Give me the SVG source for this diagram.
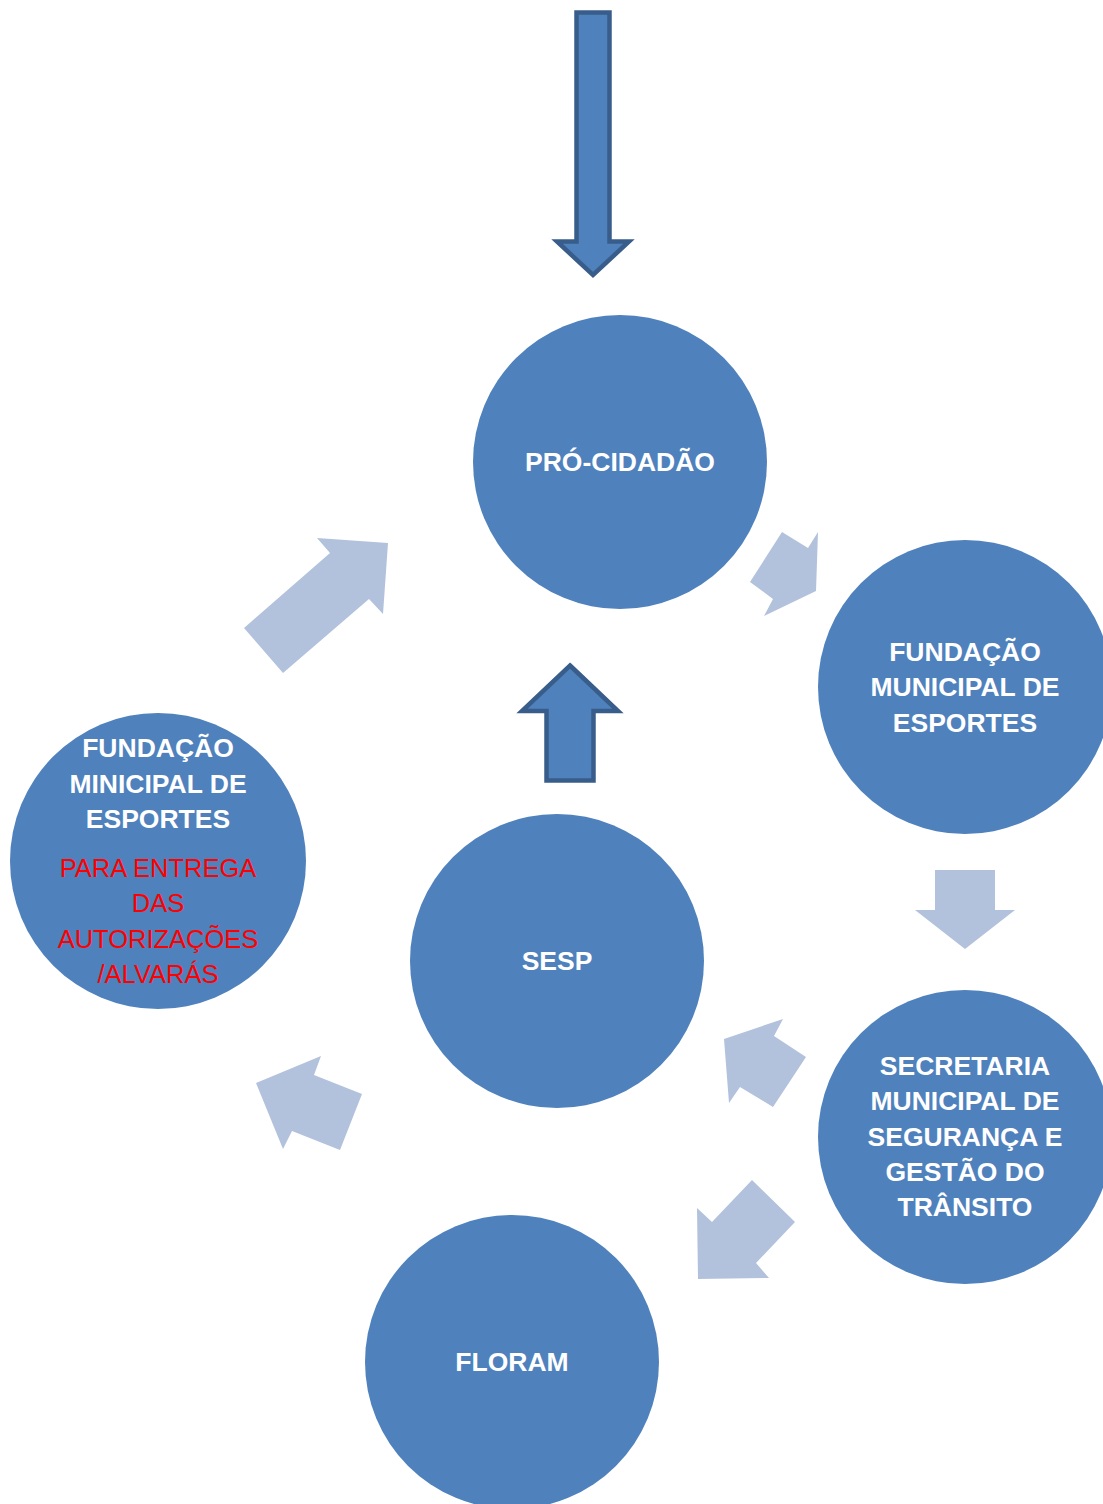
<svg xmlns="http://www.w3.org/2000/svg" width="1103" height="1504" viewBox="0 0 1103 1504">
<style>
.node{fill:#4f81bd}
.lbl{font-family:"Liberation Sans",Arial,sans-serif;font-weight:bold;font-size:26.5px;fill:#ffffff;text-anchor:middle}
.red{font-family:"Liberation Sans",Arial,sans-serif;font-size:25.5px;fill:#ff0000;text-anchor:middle}
.light{fill:#b2c2dc}
.dark{fill:#4f81bd;stroke:#385d8a;stroke-width:4.5;stroke-linejoin:miter}
</style>
<rect width="1103" height="1504" fill="#ffffff"/>
<g id="connectors">
<polygon class="dark" points="576.5,12.5 609.5,12.5 609.5,241.5 629,241.5 593,275 557,241.5 576.5,241.5"/>
<polygon class="dark" points="570,665.5 618,711 593.5,711 593.5,780.5 546.5,780.5 546.5,711 522,711"/>
<polygon class="light" points="244,628 330,553 317,538 388,543 383,614 369,599 283,673"/>
<polygon class="light" points="782,532 808,548 818,532 816,591 764,616 773,599 750,582"/>
<polygon class="light" points="935,870 995,870 995,910 1015,910 965,949 915,910 935,910"/>
<polygon class="light" points="724,1039 783,1019 774,1036 806,1057 773,1107 740,1087 729,1103"/>
<polygon class="light" points="697,1208 712,1222 752,1180 795,1222 756,1263 769,1278 698,1279"/>
<polygon class="light" points="256,1083 321,1056 314,1075 362,1094 340,1150 292,1131 283,1149"/>
</g>
<g id="pro-cidadao">
<circle class="node" cx="620" cy="462" r="147"/>
<text class="lbl" x="620" y="471">PRÓ-CIDADÃO</text>
</g>
<g id="fundacao-direita">
<circle class="node" cx="965" cy="687" r="147"/>
<text class="lbl" x="965" y="661">FUNDAÇÃO</text>
<text class="lbl" x="965" y="696">MUNICIPAL DE</text>
<text class="lbl" x="965" y="732">ESPORTES</text>
</g>
<g id="fundacao-esquerda">
<circle class="node" cx="158" cy="861" r="148"/>
<text class="lbl" x="158" y="757">FUNDAÇÃO</text>
<text class="lbl" x="158" y="793">MINICIPAL DE</text>
<text class="lbl" x="158" y="828">ESPORTES</text>
<text class="red" x="158" y="877">PARA ENTREGA</text>
<text class="red" x="158" y="912">DAS</text>
<text class="red" x="158" y="948">AUTORIZAÇÕES</text>
<text class="red" x="158" y="983">/ALVARÁS</text>
</g>
<g id="sesp">
<circle class="node" cx="557" cy="961" r="147"/>
<text class="lbl" x="557" y="970">SESP</text>
</g>
<g id="secretaria">
<circle class="node" cx="965" cy="1137" r="147"/>
<text class="lbl" x="965" y="1075">SECRETARIA</text>
<text class="lbl" x="965" y="1110">MUNICIPAL DE</text>
<text class="lbl" x="965" y="1146">SEGURANÇA E</text>
<text class="lbl" x="965" y="1181">GESTÃO DO</text>
<text class="lbl" x="965" y="1216">TRÂNSITO</text>
</g>
<g id="floram">
<circle class="node" cx="512" cy="1362" r="147"/>
<text class="lbl" x="512" y="1371">FLORAM</text>
</g>
</svg>
